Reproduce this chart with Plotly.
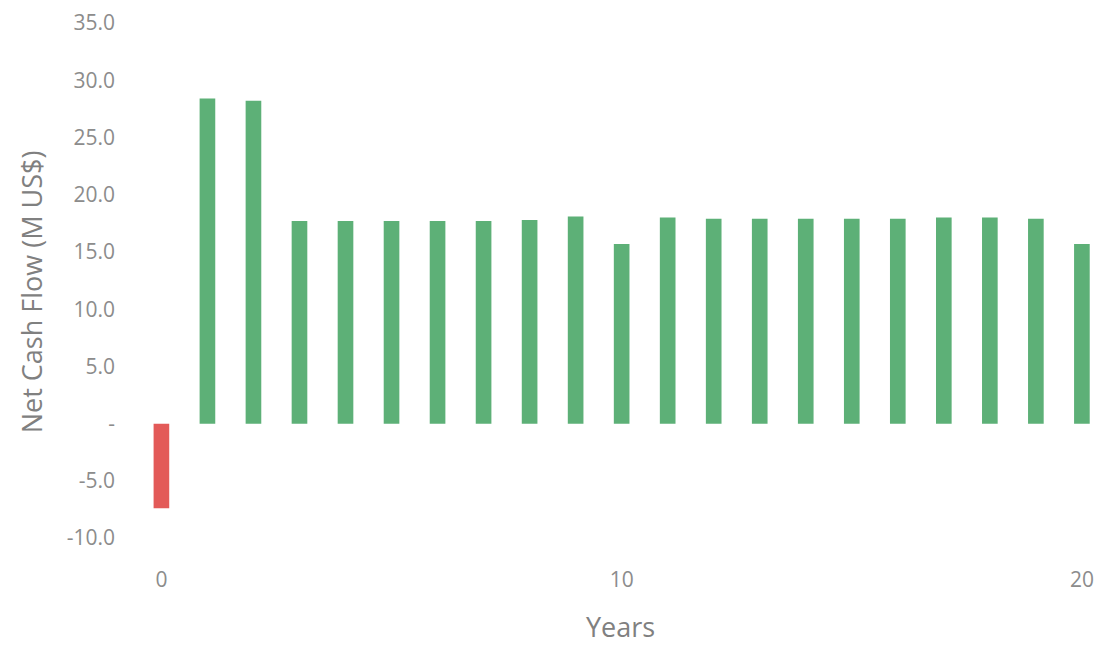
import plotly.graph_objects as go

years = list(range(0, 21))
net_cash_flow = [-7.4, 28.4, 28.2, 17.7, 17.7, 17.7, 17.7, 17.7, 17.8, 18.1,
                 15.7, 18.0, 17.9, 17.9, 17.9, 17.9, 17.9, 18.0, 18.0, 17.9, 15.7]
y_tick_vals = [-10, -5, 0, 5, 10, 15, 20, 25, 30, 35]
y_tick_text = ["-10.0", "-5.0", "-", "5.0", "10.0", "15.0", "20.0", "25.0", "30.0", "35.0"]
x_tick_vals = [0, 10, 20]

GREEN = "#5db077"
RED = "#e35a58"
colors = [RED if v < 0 else GREEN for v in net_cash_flow]

fig = go.Figure(go.Bar(x=years, y=net_cash_flow, marker=dict(color=colors, line=dict(width=0)),
                       width=0.34))

font_family = "'Open Sans', Lato, sans-serif"
TICK_COLOR = "#8c8c8c"
TITLE_COLOR = "#808080"
fig.update_layout(
    width=1099, height=645,
    margin=dict(l=143, r=1, t=23, b=84),
    paper_bgcolor="white", plot_bgcolor="white",
    showlegend=False,
    font=dict(family=font_family, color=TICK_COLOR, size=21),
)
fig.update_xaxes(range=[-0.4, 20.35], tickvals=x_tick_vals, showgrid=False, zeroline=False,
                 showline=False, ticks="", tickfont=dict(size=21, color=TICK_COLOR),
                 ticklabelstandoff=4,
                 title=dict(text="Years", font=dict(size=27, color=TITLE_COLOR), standoff=30))
fig.update_yaxes(range=[-12, 35], tickvals=y_tick_vals, ticktext=y_tick_text, showgrid=False,
                 zeroline=False, showline=False, ticks="", tickfont=dict(size=21, color=TICK_COLOR),
                 ticklabelstandoff=27,
                 title=dict(text="Net Cash Flow (M US$)", font=dict(size=27, color=TITLE_COLOR), standoff=16))

fig.write_html("out.html")
